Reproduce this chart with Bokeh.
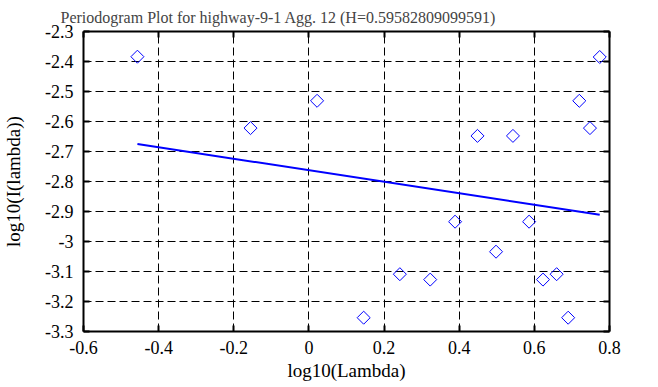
import numpy as np
from bokeh.plotting import figure
from bokeh.models import Range1d, LinearAxis, FixedTicker, ColumnDataSource
from bokeh.embed import file_html
from bokeh.resources import INLINE

# ---- data ----
log_lambda = [-0.4565, -0.1555, 0.0217, 0.1457, 0.242, 0.3228, 0.389, 0.4486,
              0.498, 0.543, 0.586, 0.623, 0.6593, 0.690, 0.7196, 0.748, 0.774]
log_I = [-2.384, -2.622, -2.531, -3.254, -3.109, -3.127, -2.934, -2.648,
         -3.034, -2.648, -2.934, -3.127, -3.109, -3.254, -2.531, -2.622, -2.385]
H = 0.59582809099591
fit_intercept = -2.7625

x_ticks = [-0.6, -0.4, -0.2, 0.0, 0.2, 0.4, 0.6, 0.8]
x_tick_labels = ["-0.6", "-0.4", "-0.2", "0", "0.2", "0.4", "0.6", "0.8"]
y_ticks = [-3.3, -3.2, -3.1, -3.0, -2.9, -2.8, -2.7, -2.6, -2.5, -2.4, -2.3]
y_tick_labels = ["-3.3", "-3.2", "-3.1", "-3", "-2.9", "-2.8", "-2.7", "-2.6", "-2.5", "-2.4", "-2.3"]

title_text = "Periodogram Plot for highway-9-1 Agg. 12 (H=%s)" % "0.59582809099591"

# fitted line (slope from H)
slope = 1 - 2 * H
line_x = [min(log_lambda), max(log_lambda)]
line_y = [fit_intercept + slope * v for v in line_x]

FONT = "Liberation Serif"
BLUE = "#0000ff"

p = figure(width=658, height=387, output_backend="svg", toolbar_location=None,
           x_range=Range1d(-0.6, 0.8), y_range=Range1d(-3.3, -2.3),
           min_border_left=82, min_border_right=49, min_border_top=31, min_border_bottom=56)
p.background_fill_color = "white"
p.border_fill_color = "white"
p.outline_line_color = None

p.title.text = title_text
p.title.text_font = FONT
p.title.text_font_style = "normal"
p.title.text_font_size = "16px"
p.title.align = "left"
p.title.offset = -23
p.title.standoff = 12

# main axes
for ax, ticks, labels in ((p.xaxis[0], x_ticks, x_tick_labels), (p.yaxis[0], y_ticks, y_tick_labels)):
    ax.ticker = FixedTicker(ticks=ticks)
    ax.major_label_overrides = {t: l for t, l in zip(ticks, labels)}
    ax.axis_line_width = 2
    ax.axis_line_color = "black"
    ax.major_tick_in = 6
    ax.major_tick_out = 0
    ax.major_tick_line_width = 2
    ax.minor_tick_line_color = None
    ax.major_label_text_font = FONT
    ax.major_label_text_font_size = "18px"
    ax.major_label_text_color = "black"
    ax.axis_label_text_font = FONT
    ax.axis_label_text_font_size = "19px"
    ax.axis_label_text_font_style = "normal"
    ax.axis_label_text_color = "black"

p.xaxis[0].axis_label = "log10(Lambda)"
p.yaxis[0].axis_label = "log10(I(lambda))"
p.xaxis[0].major_label_standoff = 9
p.xaxis[0].axis_label_standoff = 3
p.yaxis[0].major_label_standoff = 10
p.yaxis[0].axis_label_standoff = 18

# mirrored axes (frame with inward ticks, no labels)
for loc, ticks in (("right", y_ticks), ("above", x_ticks)):
    ax = LinearAxis(ticker=FixedTicker(ticks=ticks))
    ax.major_label_overrides = {t: "" for t in ticks}
    ax.axis_line_width = 2
    ax.major_tick_in = 6
    ax.major_tick_out = 0
    ax.major_tick_line_width = 2
    ax.minor_tick_line_color = None
    ax.major_label_standoff = 0
    p.add_layout(ax, loc)

for g, ticks in ((p.xgrid[0], x_ticks), (p.ygrid[0], y_ticks)):
    g.ticker = FixedTicker(ticks=ticks)
    g.grid_line_color = "black"
    g.grid_line_width = 1
    g.grid_line_dash = "8 4"

src = ColumnDataSource(dict(x=log_lambda, y=log_I))
p.scatter("x", "y", source=src, marker="square", size=9.2, angle=np.pi / 4,
          fill_color=None, line_color=BLUE, line_width=1)
p.line(line_x, line_y, line_color=BLUE, line_width=2)

open("out.html", "w").write(file_html(p, INLINE))
